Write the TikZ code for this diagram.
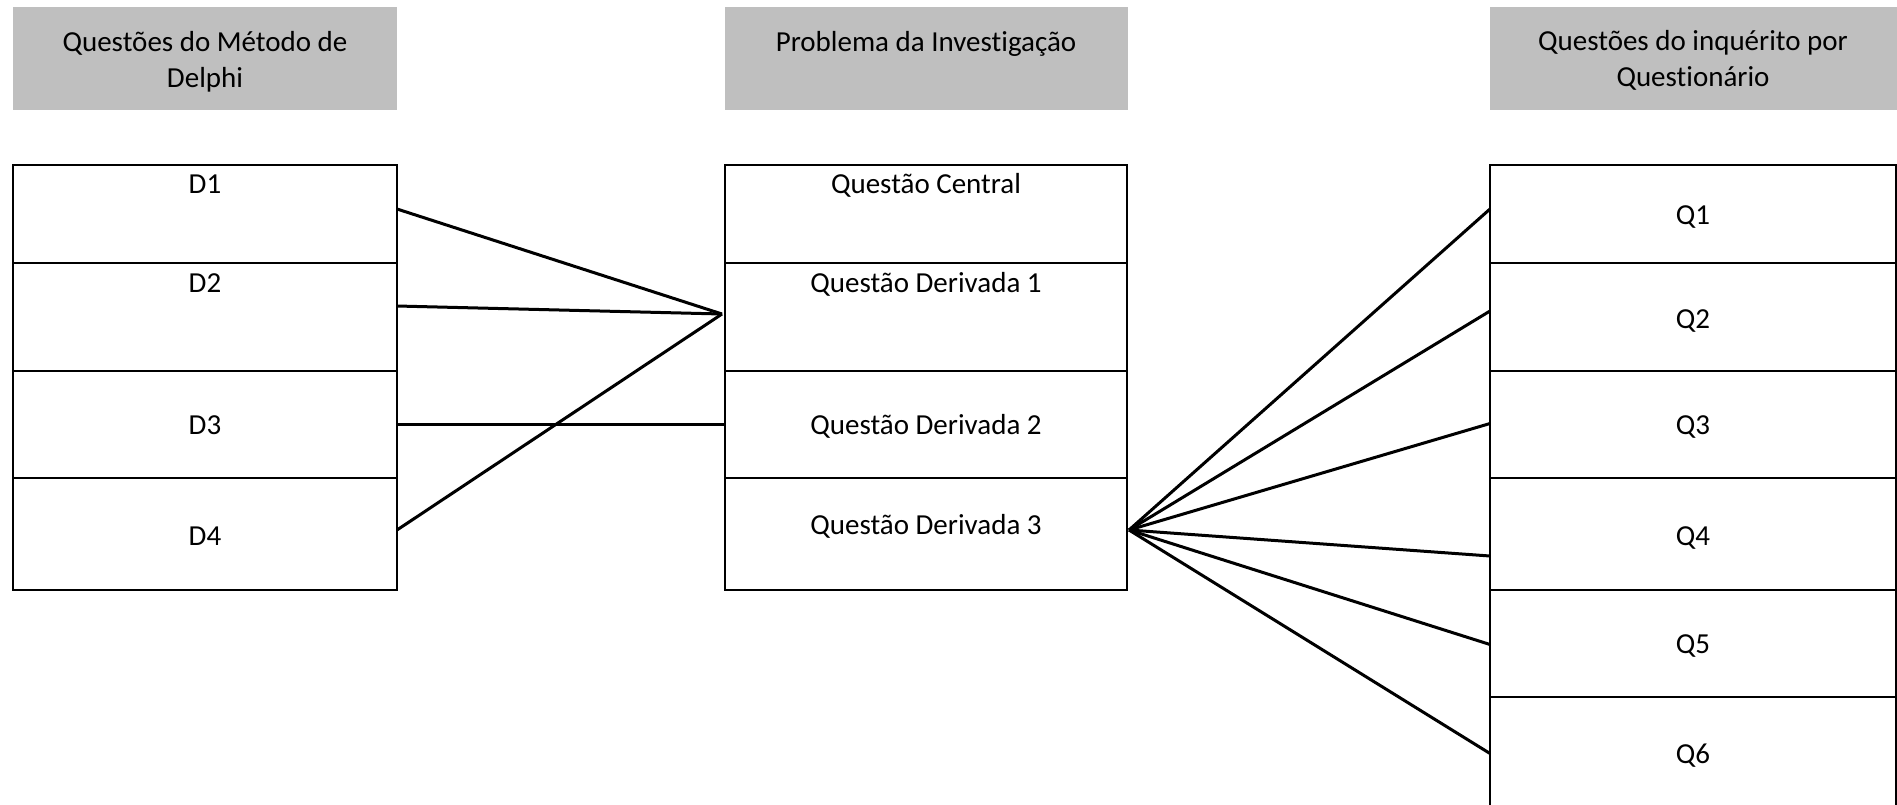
\documentclass[tikz,border=0pt]{standalone}
\usepackage{fontspec}
\setmainfont{Carlito}[Ligatures=NoCommon,RawFeature={-liga;-clig;-dlig;-calt}]
\definecolor{hdrgray}{HTML}{BFBFBF}
\begin{document}
\begin{tikzpicture}[x=1pt,y=-1pt,
  hdr/.style={fill=hdrgray, draw=none, anchor=north west, inner sep=0pt, outer sep=0pt},
  cell/.style={draw=black, line width=2pt, anchor=north west, inner sep=0pt, outer sep=0pt},
  txt/.style={anchor=base, font=\fontsize{29}{36}\selectfont, inner sep=0pt, text=black},
  link/.style={draw=black, line width=3pt}]
\useasboundingbox (0,0) rectangle (1897,804);

% headers
\node[hdr, minimum width=384pt, minimum height=103pt] (hL) at (13,7) {};
\node[hdr, minimum width=403pt, minimum height=103pt] (hM) at (725,7) {};
\node[hdr, minimum width=407pt, minimum height=103pt] (hR) at (1490,7) {};
\node[txt] (hL1) at (205,51) {Questões do Método de};
\node[txt] (hL2) at (205,87) {Delphi};
\node[txt] (hM1) at (926,51) {Problema da Investigação};
\node[txt] (hR1) at (1693,50) {Questões do inquérito por};
\node[txt] (hR2) at (1693,86) {Questionário};

% left column
\node[cell, minimum width=384pt, minimum height=98pt]  (D1) at (13,165) {};
\node[cell, minimum width=384pt, minimum height=108pt] (D2) at (13,263) {};
\node[cell, minimum width=384pt, minimum height=107pt] (D3) at (13,371) {};
\node[cell, minimum width=384pt, minimum height=112pt] (D4) at (13,478) {};
\node[txt] (tD1) at (205,193) {D1};
\node[txt] (tD2) at (205,292) {D2};
\node[txt] (tD3) at (205,434) {D3};
\node[txt] (tD4) at (205,545) {D4};

% middle column
\node[cell, minimum width=402pt, minimum height=98pt]  (M0) at (725,165) {};
\node[cell, minimum width=402pt, minimum height=108pt] (M1) at (725,263) {};
\node[cell, minimum width=402pt, minimum height=107pt] (M2) at (725,371) {};
\node[cell, minimum width=402pt, minimum height=112pt] (M3) at (725,478) {};
\node[txt] (tM0) at (926,193) {Questão Central};
\node[txt] (tM1) at (926,292) {Questão Derivada 1};
\node[txt] (tM2) at (926,434) {Questão Derivada 2};
\node[txt] (tM3) at (926,534) {Questão Derivada 3};

% right column
\node[cell, minimum width=406pt, minimum height=98pt]  (Q1) at (1490,165) {};
\node[cell, minimum width=406pt, minimum height=108pt] (Q2) at (1490,263) {};
\node[cell, minimum width=406pt, minimum height=107pt] (Q3) at (1490,371) {};
\node[cell, minimum width=406pt, minimum height=112pt] (Q4) at (1490,478) {};
\node[cell, minimum width=406pt, minimum height=107pt] (Q5) at (1490,590) {};
\node[cell, minimum width=406pt, minimum height=133pt] (Q6) at (1490,697) {};
\node[txt] (tQ1) at (1693,224) {Q1};
\node[txt] (tQ2) at (1693,328) {Q2};
\node[txt] (tQ3) at (1693,434) {Q3};
\node[txt] (tQ4) at (1693,545) {Q4};
\node[txt] (tQ5) at (1693,653) {Q5};
\node[txt] (tQ6) at (1693,763) {Q6};

% convergence points
\coordinate (c1) at (722,314);
\coordinate (c2) at (1129,530);

% connectors left
\draw[link] ([yshift=5pt]D1.east) -- (c1);
\draw[link] ([yshift=11pt]D2.east) -- (c1);
\draw[link] ([yshift=4pt]D4.east) -- (c1);
\draw[link] (D3.east) -- (M2.west);

% connectors right
\draw[link] (c2) -- ([yshift=5pt]Q1.west);
\draw[link] (c2) -- ([yshift=6pt]Q2.west);
\draw[link] (c2) -- ([yshift=1pt]Q3.west);
\draw[link] (c2) -- ([yshift=-22pt]Q4.west);
\draw[link] (c2) -- ([yshift=-1pt]Q5.west);
\draw[link] (c2) -- ([yshift=10pt]Q6.west);
\end{tikzpicture}
\end{document}
